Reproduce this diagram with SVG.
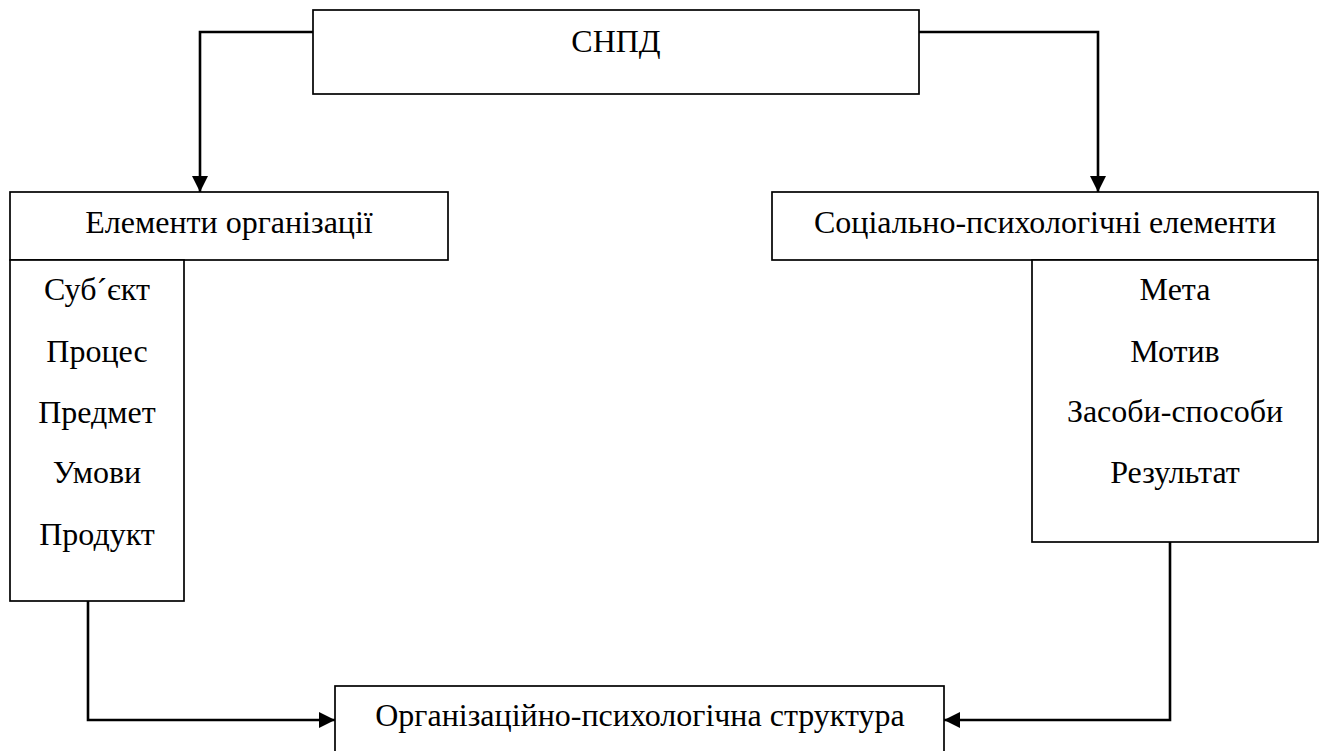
<svg xmlns="http://www.w3.org/2000/svg" width="1322" height="751" viewBox="0 0 1322 751">
<style>
.box{fill:#fff;stroke:#000;stroke-width:1.7}
.t{font-family:"Liberation Serif","Times New Roman",serif;font-size:32px;fill:#000;text-anchor:middle}
.c{fill:none;stroke:#000;stroke-width:2.6}
</style>
<defs>
<marker id="ah" markerUnits="userSpaceOnUse" markerWidth="16" markerHeight="16" viewBox="0 0 16 16" refX="16" refY="8" orient="auto">
<path d="M0,0 L16,8 L0,16 Z" fill="#000"/>
</marker>
</defs>
<rect width="1322" height="751" fill="#fff"/>
<g id="connectors">
<path class="c" d="M313,32 H200 V192" marker-end="url(#ah)"/>
<path class="c" d="M919,32 H1098 V192" marker-end="url(#ah)"/>
<path class="c" d="M88,601 V720 H335" marker-end="url(#ah)"/>
<path class="c" d="M1170,542 V720 H944" marker-end="url(#ah)"/>
</g>
<g id="snpd">
<rect class="box" x="313" y="10" width="606" height="84"/>
<text class="t" x="616" y="52">СНПД</text>
</g>
<g id="org-elements">
<rect class="box" x="10" y="192" width="438" height="68"/>
<text class="t" x="229" y="233">Елементи організації</text>
</g>
<g id="org-list">
<rect class="box" x="10" y="260" width="174" height="341"/>
<text class="t" x="97" y="300">Суб´єкт</text>
<text class="t" x="97" y="362">Процес</text>
<text class="t" x="97" y="423">Предмет</text>
<text class="t" x="97" y="483">Умови</text>
<text class="t" x="97" y="545">Продукт</text>
</g>
<g id="soc-elements">
<rect class="box" x="772" y="192" width="546" height="68"/>
<text class="t" x="1045" y="233">Соціально-психологічні елементи</text>
</g>
<g id="soc-list">
<rect class="box" x="1032" y="260" width="286" height="282"/>
<text class="t" x="1175" y="300">Мета</text>
<text class="t" x="1175" y="362">Мотив</text>
<text class="t" x="1175" y="422">Засоби-способи</text>
<text class="t" x="1175" y="483">Результат</text>
</g>
<g id="structure">
<rect class="box" x="335" y="686" width="609" height="80"/>
<text class="t" x="640" y="726">Організаційно-психологічна структура</text>
</g>
</svg>
